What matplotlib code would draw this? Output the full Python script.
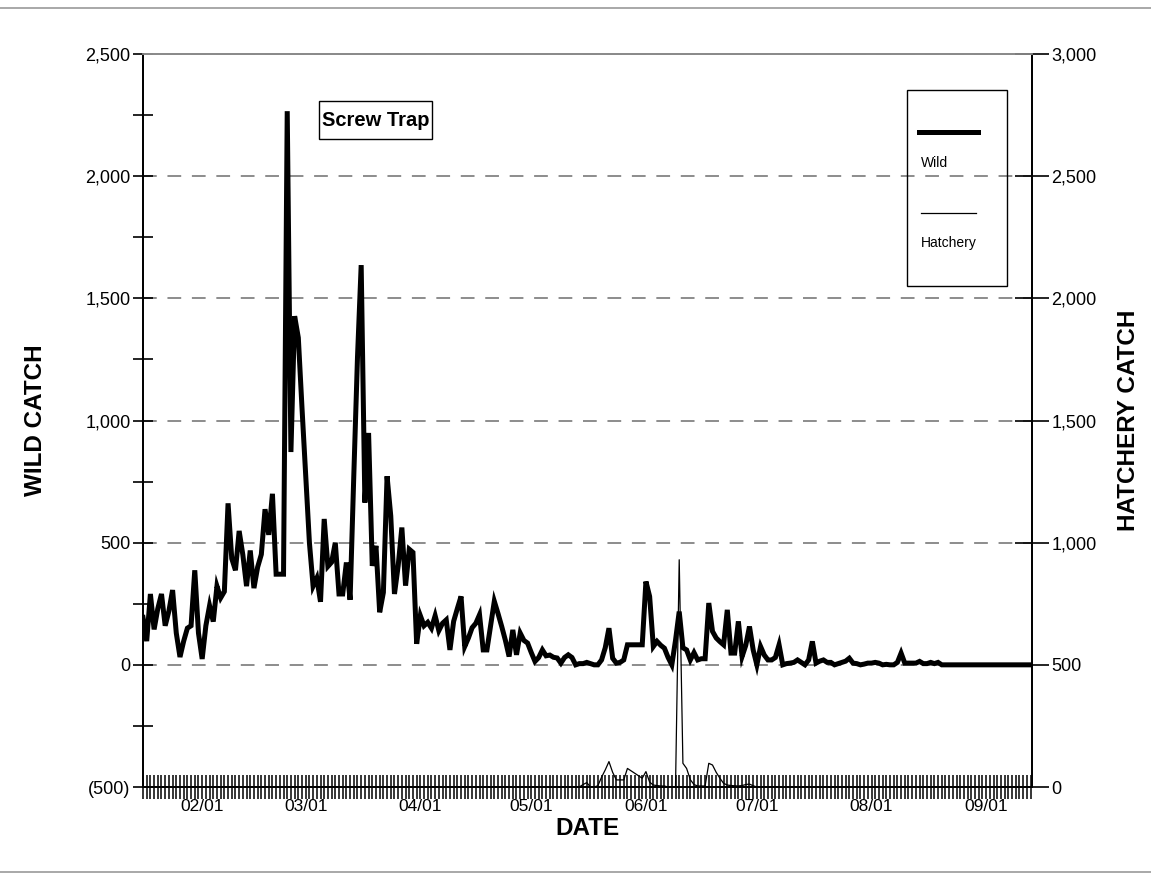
import matplotlib
matplotlib.use("Agg")
import matplotlib.pyplot as plt
import matplotlib.dates as mdates
from matplotlib.ticker import FuncFormatter, FixedLocator
from matplotlib.lines import Line2D
from matplotlib.patches import Rectangle
import pandas as pd

plt.rcParams['font.family'] = ['Liberation Sans', 'DejaVu Sans']

# ---------------- data ----------------
start_date = "1998-01-16"
wild_catch = [
    194, 97, 290, 145, 230, 290, 160, 220, 306, 130,
    32, 97, 150, 160, 387, 130, 24, 160, 242, 177,
    322, 274, 300, 661, 435, 387, 548, 450, 322, 468,
    314, 400, 452, 637, 532, 700, 371, 371, 371, 2266,
    871, 1427, 1339, 1050, 774, 500, 322, 355, 258, 597,
    403, 420, 500, 290, 290, 419, 266, 774, 1258, 1636,
    664, 949, 405, 487, 215, 296, 772, 609, 290, 405,
    562, 324, 473, 460, 86, 201, 160, 174, 150, 201,
    140, 170, 184, 61, 178, 230, 280, 75, 110, 152,
    170, 205, 61, 61, 160, 260, 210, 157, 100, 34,
    143, 41, 130, 100, 89, 50, 14, 30, 61, 37,
    40, 31, 28, 7, 30, 41, 30, 0, 5, 5,
    10, 5, 0, 0, 20, 70, 150, 27, 7, 10,
    20, 82, 82, 82, 82, 82, 341, 280, 75, 96,
    80, 68, 30, 0, 100, 218, 70, 61, 20, 50,
    20, 25, 25, 253, 137, 110, 95, 82, 225, 48,
    48, 178, 34, 80, 157, 61, 0, 75, 40, 20,
    20, 30, 82, 0, 5, 7, 10, 20, 10, 0,
    20, 96, 7, 15, 20, 10, 10, 0, 5, 10,
    15, 27, 7, 5, 0, 3, 7, 7, 10, 7,
    0, 2, 0, 0, 10, 48, 7, 7, 7, 7,
    14, 5, 5, 10, 5, 10, 0, 0, 0, 0,
    0, 0, 0, 0, 0, 0, 0, 0, 0, 0,
    0, 0, 0, 0, 0, 0, 0, 0, 0, 0,
    0,
]
hatchery_catch = (
    [0] * 119 +
    [10, 18, 0, 0, 5, 40, 70, 104, 60, 29,
     29, 29, 76, 66, 56, 46, 36, 63, 20, 8,
     6, 4, 4, 0, 2, 0, 930, 97, 76, 30,
     10, 4, 4, 4, 97, 90, 60, 36, 15, 8,
     6, 5, 4, 6, 10, 12, 5, 0] +
    [0] * 74
)
left_ticks = [-500, 0, 500, 1000, 1500, 2000, 2500]
left_minor = [-250, 250, 750, 1250, 1750, 2250]
right_ticks = [0, 500, 1000, 1500, 2000, 2500, 3000]
title_text = "Screw Trap"
legend_labels = ["Wild", "Hatchery"]

dates = pd.date_range(start_date, periods=len(wild_catch), freq="D")
hdates = pd.date_range(start_date, periods=len(hatchery_catch), freq="D")

# ---------------- figure ----------------
W, H = 1151, 875
fig = plt.figure(figsize=(W / 100, H / 100), dpi=100)
L, R, T, B = 143, 1032, 54, 787
ax = fig.add_axes([L / W, 1 - B / H, (R - L) / W, (B - T) / H])
ax2 = ax.twinx()

ax.plot(dates, wild_catch, color="black", lw=3.6, solid_joinstyle="miter", zorder=3)
ax2.plot(hdates, hatchery_catch, color="black", lw=0.9, zorder=3)

ax.set_ylim(-500, 2500)
ax2.set_ylim(0, 3000)
x0 = pd.Timestamp(start_date)
ax.set_xlim(x0, x0 + pd.Timedelta(days=240.4))

def paren_fmt(v, pos):
    return f"({abs(v):,.0f})" if v < 0 else f"{v:,.0f}"

ax.yaxis.set_major_locator(FixedLocator(left_ticks))
ax.yaxis.set_minor_locator(FixedLocator(left_minor))
ax.yaxis.set_major_formatter(FuncFormatter(paren_fmt))
ax2.yaxis.set_major_locator(FixedLocator(right_ticks))
ax2.yaxis.set_major_formatter(FuncFormatter(paren_fmt))

ax.xaxis.set_major_locator(mdates.MonthLocator(bymonthday=1))
ax.xaxis.set_minor_locator(mdates.DayLocator())
ax.xaxis.set_major_formatter(mdates.DateFormatter("%m/%d"))

ax.tick_params(axis="y", which="major", direction="inout", length=14, width=1.2,
               labelsize=13, pad=2)
ax.tick_params(axis="y", which="minor", direction="inout", length=14, width=1.2)
ax.tick_params(axis="x", which="both", direction="inout", length=17, width=1.1,
               labelsize=12.5, pad=0)
ax2.tick_params(axis="y", which="major", direction="inout", length=24, width=1.2,
                labelsize=13, pad=2)

ax.grid(True, axis="y", which="major", color="#6e6e6e", lw=1.1,
        linestyle=(0, (9, 7)), zorder=1)
ax.set_axisbelow(True)

for a in (ax, ax2):
    a.spines["top"].set_color("#8a8a8a")
    a.spines["top"].set_linewidth(1.3)
    a.spines["left"].set_linewidth(1.3)
    a.spines["right"].set_linewidth(1.3)
    a.spines["bottom"].set_linewidth(1.3)

ax.set_ylabel("WILD CATCH", fontsize=17.5, fontweight="bold")
ax2.set_ylabel("HATCHERY CATCH", fontsize=17.5, fontweight="bold")
ax.set_xlabel("DATE", fontsize=17.5, fontweight="bold")
ax.yaxis.set_label_coords(-0.108, 0.5)
ax2.yaxis.set_label_coords(1.0955, 0.5)
ax.xaxis.set_label_coords(0.5, -0.041)

# title box
fig.add_artist(Rectangle((319 / W, 1 - 139 / H), 113 / W, 38 / H,
                         transform=fig.transFigure, fill=False, ec="black", lw=1.0))
fig.text(375.5 / W, 1 - 120 / H, title_text, fontsize=14.5, fontweight="bold",
         ha="center", va="center")

# legend
fig.add_artist(Rectangle((907 / W, 1 - 286 / H), 100 / W, 196 / H,
                         transform=fig.transFigure, fill=False, ec="black", lw=1.0))
fig.add_artist(Line2D([919 / W, 978 / W], [1 - 132 / H, 1 - 132 / H],
                      transform=fig.transFigure, color="black", lw=3.6))
fig.text(921 / W, 1 - 163 / H, legend_labels[0], fontsize=10, ha="left", va="center")
fig.add_artist(Line2D([921 / W, 976 / W], [1 - 213 / H, 1 - 213 / H],
                      transform=fig.transFigure, color="black", lw=0.9))
fig.text(921 / W, 1 - 243 / H, legend_labels[1], fontsize=10, ha="left", va="center")

# scanned page border lines
fig.add_artist(Line2D([0, 1], [1 - 8 / H, 1 - 8 / H], transform=fig.transFigure,
                      color="#9a9a9a", lw=1.2))
fig.add_artist(Line2D([0, 1], [1 - 872 / H, 1 - 872 / H], transform=fig.transFigure,
                      color="#9a9a9a", lw=1.2))

fig.savefig("out.png", dpi=100)
